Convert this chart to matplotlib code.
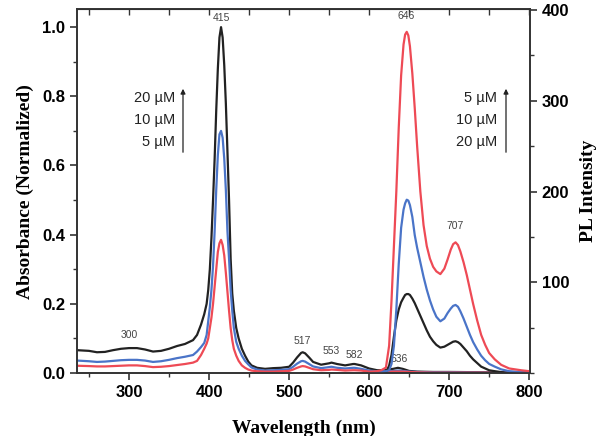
import numpy as np
import matplotlib
matplotlib.use('Agg')
import matplotlib.pyplot as plt
from matplotlib.ticker import MultipleLocator

# absorbance (normalized), shared wavelength grid
wl_abs = [235, 250, 260, 270, 280, 290, 300, 310, 320, 330, 340, 350, 360, 370,
          380, 385, 390, 394, 397, 399, 401, 403, 405, 407, 409, 411, 413, 415, 417,
          419, 421, 423, 425, 427, 429, 431, 434, 437, 441, 445, 449, 453, 460,
          470, 480, 490, 500, 505, 510, 515, 517, 520, 525, 530, 540, 550, 553, 560,
          570, 580, 582, 590, 600, 610, 620, 630, 636, 642, 650, 660, 680, 700, 750, 800]
abs_20 = [0.066, 0.064, 0.060, 0.061, 0.066, 0.070, 0.072, 0.072, 0.068, 0.062, 0.064, 0.070, 0.078, 0.084,
          0.095, 0.110, 0.140, 0.170, 0.200, 0.240, 0.300, 0.390, 0.500, 0.620, 0.760, 0.880, 0.970, 1.000, 0.970,
          0.890, 0.780, 0.640, 0.500, 0.330, 0.230, 0.180, 0.130, 0.100, 0.070, 0.050, 0.033, 0.022, 0.015,
          0.012, 0.014, 0.015, 0.018, 0.030, 0.045, 0.058, 0.060, 0.057, 0.045, 0.032, 0.024, 0.028, 0.030, 0.026,
          0.022, 0.026, 0.026, 0.022, 0.013, 0.008, 0.008, 0.012, 0.015, 0.012, 0.006, 0.004, 0.003, 0.003, 0.002, 0.002]
abs_10 = [0.036, 0.034, 0.032, 0.033, 0.035, 0.037, 0.038, 0.038, 0.036, 0.032, 0.034, 0.038, 0.043, 0.047,
          0.052, 0.062, 0.075, 0.087, 0.110, 0.150, 0.190, 0.240, 0.310, 0.410, 0.530, 0.630, 0.690, 0.700, 0.680,
          0.620, 0.530, 0.410, 0.330, 0.240, 0.180, 0.130, 0.090, 0.070, 0.050, 0.035, 0.025, 0.016, 0.010,
          0.007, 0.008, 0.009, 0.011, 0.018, 0.027, 0.034, 0.035, 0.033, 0.026, 0.019, 0.014, 0.017, 0.018, 0.015,
          0.013, 0.015, 0.015, 0.012, 0.007, 0.005, 0.005, 0.006, 0.007, 0.006, 0.004, 0.003, 0.002, 0.002, 0.001, 0.001]
abs_5 = [0.021, 0.020, 0.019, 0.019, 0.020, 0.021, 0.022, 0.022, 0.020, 0.017, 0.018, 0.020, 0.023, 0.026,
         0.030, 0.035, 0.052, 0.070, 0.085, 0.100, 0.130, 0.160, 0.200, 0.250, 0.300, 0.350, 0.375, 0.385, 0.370,
         0.340, 0.290, 0.235, 0.180, 0.130, 0.095, 0.070, 0.050, 0.035, 0.022, 0.015, 0.010, 0.007, 0.005,
         0.004, 0.004, 0.005, 0.006, 0.010, 0.015, 0.019, 0.020, 0.019, 0.015, 0.011, 0.008, 0.009, 0.010, 0.009,
         0.007, 0.008, 0.008, 0.007, 0.004, 0.003, 0.003, 0.004, 0.004, 0.004, 0.003, 0.002, 0.001, 0.001, 0.001, 0.001]

# PL intensity
wl_pl = [600, 610, 615, 621, 625, 628, 631, 634, 637, 640, 643, 645, 647, 649, 651,
         654, 657, 660, 664, 668, 672, 676, 680, 684, 689, 694, 698, 702, 705, 708,
         711, 714, 718, 722, 726, 730, 735, 740, 745, 750, 757, 765, 775, 790, 800]
pl_5 = [1, 2, 3, 6, 30, 80, 140, 200, 270, 328, 362, 373, 376, 372, 360,
        330, 292, 250, 200, 163, 140, 126, 117, 112, 109, 115, 125, 136, 142, 144,
        141, 134, 122, 108, 92, 76, 58, 42, 31, 22, 15, 9, 5, 3, 2]
pl_10 = [0, 1, 1, 2, 3, 10, 30, 70, 120, 160, 180, 187, 191, 190, 185,
         172, 152, 138, 122, 106, 92, 80, 70, 62, 57, 60, 66, 71, 74, 75,
         73, 68, 60, 51, 42, 34, 26, 19, 14, 10, 7, 4, 2, 1, 0]
pl_20 = [0, 0, 0, 1, 8, 20, 40, 58, 70, 78, 83, 86, 87, 87, 86,
         82, 77, 71, 63, 55, 47, 40, 35, 31, 28, 29, 31, 33, 34.5, 35,
         34, 32, 28, 24, 19, 15, 11, 7, 5, 3, 2, 1, 0, 0, 0]

abs_peaks = [(300, 0.095, '300'), (415, 1.012, '415'), (517, 0.077, '517'),
             (553, 0.048, '553'), (582, 0.037, '582'), (638, 0.027, '636')]
pl_peaks = [(646, 388, '646'), (707, 156, '707')]

c_black = '#222222'
c_blue = '#4a74c8'
c_red = '#ee4a55'

fig = plt.figure(figsize=(6.08, 4.36), dpi=100)
ax = fig.add_axes([0.1266, 0.1445, 0.7451, 0.8345])
ax2 = ax.twinx()

kw = dict(lw=1.6, solid_joinstyle='round')
ax.plot(wl_abs, abs_20, color=c_black, **kw)
ax.plot(wl_abs, abs_10, color=c_blue, **kw)
ax.plot(wl_abs, abs_5, color=c_red, **kw)
ax2.plot(wl_pl, pl_20, color=c_black, **kw)
ax2.plot(wl_pl, pl_10, color=c_blue, **kw)
ax2.plot(wl_pl, pl_5, color=c_red, **kw)

ax.set_xlim(235, 801)
ax.set_ylim(0, 1.052)
ax2.set_ylim(0, 401)

ax.xaxis.set_major_locator(MultipleLocator(100))
ax.xaxis.set_minor_locator(MultipleLocator(50))
ax.yaxis.set_minor_locator(MultipleLocator(0.1))
ax2.yaxis.set_minor_locator(MultipleLocator(50))
ax2.set_yticks([100, 200, 300, 400])
ax.set_yticks([0, 0.2, 0.4, 0.6, 0.8, 1.0])
ax.set_yticklabels(['0.0', '0.2', '0.4', '0.6', '0.8', '1.0'])

for a in (ax, ax2):
    a.tick_params(which='major', direction='out', length=5, width=1.2, color='#333333')
    a.tick_params(which='minor', direction='out', length=3, width=1.0, color='#333333')
    for lab in a.get_xticklabels() + a.get_yticklabels():
        lab.set_fontfamily('Liberation Sans')
        lab.set_fontweight('bold')
        lab.set_fontsize(12)
    for s in a.spines.values():
        s.set_linewidth(1.2)
        s.set_color('#333333')

top = ax.secondary_xaxis('top')
top.xaxis.set_major_locator(MultipleLocator(50))
top.tick_params(which='both', direction='in', length=4, width=1.0, labeltop=False, color='#333333')
top.xaxis.set_minor_locator(plt.NullLocator())

lfont = dict(family='Liberation Serif', weight='bold', size=14)
ax.set_xlabel('Wavelength (nm)', fontdict=lfont, labelpad=14)
ax.set_ylabel('Absorbance (Normalized)', fontdict=lfont, labelpad=6)
ax2.set_ylabel('PL Intensity', fontdict=lfont, labelpad=8)

for x, y, t in abs_peaks:
    ax.text(x, y, t, ha='center', va='bottom', fontsize=7.5, color='#444444', family='Liberation Sans')
for x, y, t in pl_peaks:
    ax2.text(x, y, t, ha='center', va='bottom', fontsize=7.5, color='#444444', family='Liberation Sans')

cfont = dict(fontsize=10.5, color='#222222', family='Liberation Sans', ha='right', va='center')
left_conc = ['20 µM', '10 µM', '5 µM']
right_conc = ['5 µM', '10 µM', '20 µM']
for i, t in enumerate(left_conc):
    fig.text(175 / 608, 1 - (98 + 22 * i) / 436, t, **cfont)
for i, t in enumerate(right_conc):
    fig.text(497 / 608, 1 - (98 + 22 * i) / 436, t, **cfont)
for xa in (183, 506):
    fig.add_artist(matplotlib.patches.FancyArrowPatch(
        (xa / 608, 1 - 155 / 436), (xa / 608, 1 - 86 / 436),
        transform=fig.transFigure, arrowstyle='-|>', mutation_scale=7,
        lw=0.9, color='#222222'))

fig.savefig('out.png', dpi=100)
